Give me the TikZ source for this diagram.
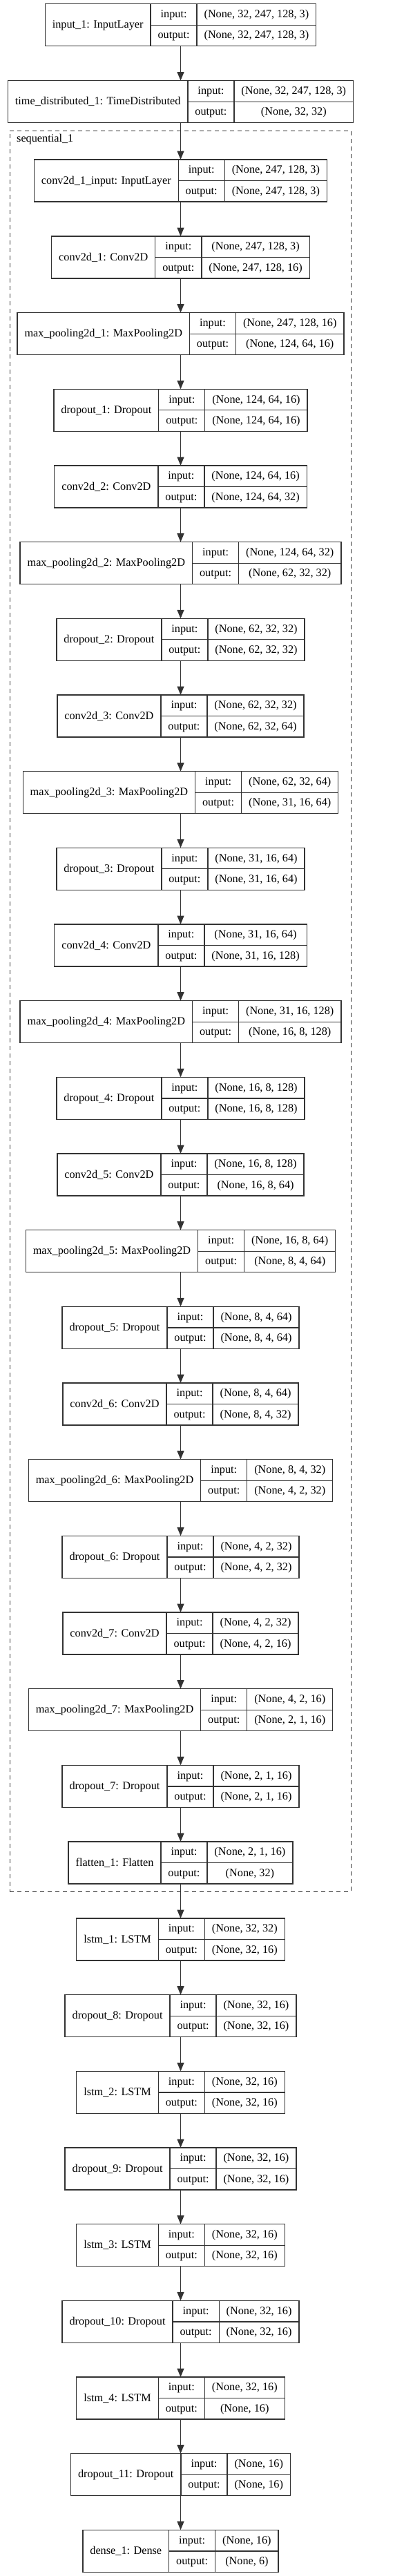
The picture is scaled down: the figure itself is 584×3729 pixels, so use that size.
\documentclass[tikz,border=0pt]{standalone}
\usepackage{fontspec}
\setmainfont{Liberation Serif}
\usetikzlibrary{arrows.meta, positioning, calc}

\definecolor{linegray}{RGB}{51,51,51}
\newcommand\lfont{\fontsize{16.25}{19.5}\selectfont}
\font\lmeas="Liberation Serif" at 16.25pt
\newlength\labw \newlength\colw \newlength\shpw \newlength\tmpw

% 一层: 名字, 上边 y, 标题, input, output
\newcommand\layer[5]{%
  \settowidth\labw{\lmeas #3}\addtolength\labw{21pt}%
  \settowidth\colw{\lmeas output:}\addtolength\colw{21pt}%
  \settowidth\shpw{\lmeas #4}\settowidth\tmpw{\lmeas #5}%
  \ifdim\tmpw>\shpw \shpw=\tmpw \fi\addtolength\shpw{21pt}%
  \pgfmathsetmacro\recw{\labw+\colw+\shpw}%
  \node[rec, minimum width=\recw pt] (#1) at (261.5, #2+30.5) {};
  \node[txt] (#1-name) at ([xshift=0.5\labw]#1.west) {#3};
  \node[txt] (#1-inl) at ([xshift=\labw+0.5\colw, yshift=15.25pt]#1.west) {input:};
  \node[txt] (#1-outl) at ([xshift=\labw+0.5\colw, yshift=-15.25pt]#1.west) {output:};
  \node[txt] (#1-in) at ([xshift=\labw+\colw+0.5\shpw, yshift=15.25pt]#1.west) {#4};
  \node[txt] (#1-out) at ([xshift=\labw+\colw+0.5\shpw, yshift=-15.25pt]#1.west) {#5};
  \draw[rule] ([xshift=\labw]#1.north west) -- ([xshift=\labw]#1.south west);
  \draw[rule] ([xshift=\labw+\colw]#1.north west) -- ([xshift=\labw+\colw]#1.south west);
  \draw[rule] ([xshift=\labw]#1.west) -- (#1.east);
}

\begin{document}
\begin{tikzpicture}[
    x=1pt, y=-1pt,
    rec/.style={draw=linegray, line width=1.3pt, inner sep=0pt, outer sep=0pt, minimum height=61pt},
    txt/.style={font=\lfont, inner sep=0pt, text height=11pt, text depth=2pt},
    rule/.style={draw=linegray, line width=1.3pt},
    arr/.style={draw=linegray, line width=1.3pt, -{Triangle[length=12.5pt, width=10pt]}},
    cluster/.style={draw=linegray, line width=1.3pt, dash pattern=on 6pt off 5pt, inner sep=0pt}
]
\useasboundingbox (0,0) rectangle (584,3729);

% sequential_1 框
\node[cluster, minimum width=494pt, minimum height=2549pt] (seq1) at (261.3, 1463.8) {};
\node[txt, anchor=west] (seq1-name) at (24, 201) {sequential\_1};

% 外层
\layer{in1}{5.7}{input\_1: InputLayer}{(None, 32, 247, 128, 3)}{(None, 32, 247, 128, 3)}
\layer{td1}{116.7}{time\_distributed\_1: TimeDistributed}{(None, 32, 247, 128, 3)}{(None, 32, 32)}

% 内层 (sequential_1)
\layer{c1in}{231}{conv2d\_1\_input: InputLayer}{(None, 247, 128, 3)}{(None, 247, 128, 3)}
\layer{cv1}{342}{conv2d\_1: Conv2D}{(None, 247, 128, 3)}{(None, 247, 128, 16)}
\layer{mp1}{452.67}{max\_pooling2d\_1: MaxPooling2D}{(None, 247, 128, 16)}{(None, 124, 64, 16)}
\layer{do1}{563.33}{dropout\_1: Dropout}{(None, 124, 64, 16)}{(None, 124, 64, 16)}
\layer{cv2}{674}{conv2d\_2: Conv2D}{(None, 124, 64, 16)}{(None, 124, 64, 32)}
\layer{mp2}{784.67}{max\_pooling2d\_2: MaxPooling2D}{(None, 124, 64, 32)}{(None, 62, 32, 32)}
\layer{do2}{895.33}{dropout\_2: Dropout}{(None, 62, 32, 32)}{(None, 62, 32, 32)}
\layer{cv3}{1006}{conv2d\_3: Conv2D}{(None, 62, 32, 32)}{(None, 62, 32, 64)}
\layer{mp3}{1116.67}{max\_pooling2d\_3: MaxPooling2D}{(None, 62, 32, 64)}{(None, 31, 16, 64)}
\layer{do3}{1227.33}{dropout\_3: Dropout}{(None, 31, 16, 64)}{(None, 31, 16, 64)}
\layer{cv4}{1338}{conv2d\_4: Conv2D}{(None, 31, 16, 64)}{(None, 31, 16, 128)}
\layer{mp4}{1448.67}{max\_pooling2d\_4: MaxPooling2D}{(None, 31, 16, 128)}{(None, 16, 8, 128)}
\layer{do4}{1559.33}{dropout\_4: Dropout}{(None, 16, 8, 128)}{(None, 16, 8, 128)}
\layer{cv5}{1670}{conv2d\_5: Conv2D}{(None, 16, 8, 128)}{(None, 16, 8, 64)}
\layer{mp5}{1780.67}{max\_pooling2d\_5: MaxPooling2D}{(None, 16, 8, 64)}{(None, 8, 4, 64)}
\layer{do5}{1891.33}{dropout\_5: Dropout}{(None, 8, 4, 64)}{(None, 8, 4, 64)}
\layer{cv6}{2002}{conv2d\_6: Conv2D}{(None, 8, 4, 64)}{(None, 8, 4, 32)}
\layer{mp6}{2112.67}{max\_pooling2d\_6: MaxPooling2D}{(None, 8, 4, 32)}{(None, 4, 2, 32)}
\layer{do6}{2223.33}{dropout\_6: Dropout}{(None, 4, 2, 32)}{(None, 4, 2, 32)}
\layer{cv7}{2334}{conv2d\_7: Conv2D}{(None, 4, 2, 32)}{(None, 4, 2, 16)}
\layer{mp7}{2444.67}{max\_pooling2d\_7: MaxPooling2D}{(None, 4, 2, 16)}{(None, 2, 1, 16)}
\layer{do7}{2555.33}{dropout\_7: Dropout}{(None, 2, 1, 16)}{(None, 2, 1, 16)}
\layer{fl1}{2666}{flatten\_1: Flatten}{(None, 2, 1, 16)}{(None, 32)}

% LSTM 部分
\layer{ls1}{2777}{lstm\_1: LSTM}{(None, 32, 32)}{(None, 32, 16)}
\layer{do8}{2887.67}{dropout\_8: Dropout}{(None, 32, 16)}{(None, 32, 16)}
\layer{ls2}{2998.33}{lstm\_2: LSTM}{(None, 32, 16)}{(None, 32, 16)}
\layer{do9}{3109}{dropout\_9: Dropout}{(None, 32, 16)}{(None, 32, 16)}
\layer{ls3}{3219.67}{lstm\_3: LSTM}{(None, 32, 16)}{(None, 32, 16)}
\layer{do10}{3330.33}{dropout\_10: Dropout}{(None, 32, 16)}{(None, 32, 16)}
\layer{ls4}{3441}{lstm\_4: LSTM}{(None, 32, 16)}{(None, 16)}
\layer{do11}{3551.67}{dropout\_11: Dropout}{(None, 16)}{(None, 16)}
\layer{de1}{3662.33}{dense\_1: Dense}{(None, 16)}{(None, 6)}

% 箭头
\draw[arr] (in1) -- (td1);
\draw[arr] (td1) -- (c1in);
\draw[arr] (c1in) -- (cv1);
\draw[arr] (cv1) -- (mp1);
\draw[arr] (mp1) -- (do1);
\draw[arr] (do1) -- (cv2);
\draw[arr] (cv2) -- (mp2);
\draw[arr] (mp2) -- (do2);
\draw[arr] (do2) -- (cv3);
\draw[arr] (cv3) -- (mp3);
\draw[arr] (mp3) -- (do3);
\draw[arr] (do3) -- (cv4);
\draw[arr] (cv4) -- (mp4);
\draw[arr] (mp4) -- (do4);
\draw[arr] (do4) -- (cv5);
\draw[arr] (cv5) -- (mp5);
\draw[arr] (mp5) -- (do5);
\draw[arr] (do5) -- (cv6);
\draw[arr] (cv6) -- (mp6);
\draw[arr] (mp6) -- (do6);
\draw[arr] (do6) -- (cv7);
\draw[arr] (cv7) -- (mp7);
\draw[arr] (mp7) -- (do7);
\draw[arr] (do7) -- (fl1);
\draw[arr] (fl1) -- (ls1);
\draw[arr] (ls1) -- (do8);
\draw[arr] (do8) -- (ls2);
\draw[arr] (ls2) -- (do9);
\draw[arr] (do9) -- (ls3);
\draw[arr] (ls3) -- (do10);
\draw[arr] (do10) -- (ls4);
\draw[arr] (ls4) -- (do11);
\draw[arr] (do11) -- (de1);
\end{tikzpicture}
\end{document}
